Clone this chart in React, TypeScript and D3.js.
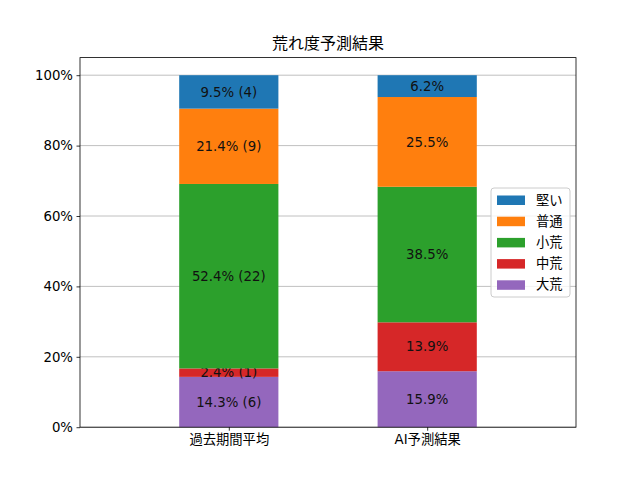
import React, { useEffect, useRef } from 'react';
import * as d3 from 'd3';

const categories = ['過去期間平均', 'AI予測結果'];
const seriesNames = ['大荒', '中荒', '小荒', '普通', '堅い'];
const seriesColors = ['#9467bd', '#d62728', '#2ca02c', '#ff7f0e', '#1f77b4'];
// percentages per series, one value per category
const daiare = [14.3, 15.9];
const chuare = [2.4, 13.9];
const shoare = [52.4, 38.5];
const futsu = [21.4, 25.5];
const katai = [9.5, 6.2];
// race counts for the past-period bar only
const pastCounts = [6, 1, 22, 9, 4];
const yTicks = [0, 20, 40, 60, 80, 100];

const FONT = '"DejaVu Sans", "Noto Sans CJK JP", sans-serif';

const App: React.FC = () => {
  const ref = useRef<SVGSVGElement | null>(null);

  useEffect(() => {
    if (!ref.current) return;
    const svg = d3.select(ref.current);
    svg.selectAll('*').remove();

    const width = 640;
    const height = 480;
    const margin = { top: 57.6, right: 64, bottom: 52.8, left: 80 };
    const values = [daiare, chuare, shoare, futsu, katai];

    const x = d3.scaleLinear()
      .domain([-0.75, categories.length - 0.25])
      .range([margin.left, width - margin.right]);
    const y = d3.scaleLinear()
      .domain([0, 105])
      .range([height - margin.bottom, margin.top]);
    const barW = x(0.5) - x(0);

    // grid
    svg.append('g')
      .selectAll('line')
      .data(yTicks)
      .enter().append('line')
      .attr('x1', margin.left)
      .attr('x2', width - margin.right)
      .attr('y1', d => y(d))
      .attr('y2', d => y(d))
      .attr('stroke', '#b0b0b0')
      .attr('stroke-width', 0.8);

    // bars
    categories.forEach((cat, ci) => {
      let base = 0;
      values.forEach((vals, si) => {
        const v = vals[ci];
        svg.append('rect')
          .attr('x', x(ci) - barW / 2)
          .attr('y', y(base + v))
          .attr('width', barW)
          .attr('height', y(base) - y(base + v))
          .attr('fill', seriesColors[si]);
        const label = ci === 0 ? `${v.toFixed(1)}% (${pastCounts[si]})` : `${v.toFixed(1)}%`;
        svg.append('text')
          .attr('x', x(ci))
          .attr('y', y(base + v / 2))
          .attr('dy', '0.35em')
          .attr('text-anchor', 'middle')
          .attr('font-family', FONT)
          .attr('font-size', 13.3)
          .attr('fill', '#111')
          .text(label);
        base += v;
      });
    });

    // axes
    const yAxis = svg.append('g')
      .attr('transform', `translate(${margin.left},0)`)
      .call(d3.axisLeft(y).tickValues(yTicks).tickFormat(d => `${d}%`).tickSize(3.5).tickPadding(3.5));
    const xAxis = svg.append('g')
      .attr('transform', `translate(0,${height - margin.bottom})`)
      .call(d3.axisBottom(x).tickValues(categories.map((_, i) => i)).tickFormat((_, i) => categories[i]).tickSize(3.5).tickPadding(3.5));
    [xAxis, yAxis].forEach(a => {
      a.select('.domain').remove();
      a.selectAll('text').attr('font-family', FONT).attr('font-size', 13.3).attr('fill', '#000');
      a.selectAll('line').attr('stroke', '#000').attr('stroke-width', 0.8);
    });

    // frame
    svg.append('rect')
      .attr('x', margin.left)
      .attr('y', margin.top)
      .attr('width', width - margin.left - margin.right)
      .attr('height', height - margin.top - margin.bottom)
      .attr('fill', 'none')
      .attr('stroke', '#000')
      .attr('stroke-width', 0.8);

    svg.append('text')
      .attr('x', (margin.left + width - margin.right) / 2)
      .attr('y', 49)
      .attr('text-anchor', 'middle')
      .attr('font-family', FONT)
      .attr('font-size', 16)
      .text('荒れ度予測結果');

    // legend
    const lg = svg.append('g').attr('transform', 'translate(491,188)');
    lg.append('rect')
      .attr('width', 79)
      .attr('height', 109)
      .attr('rx', 3)
      .attr('fill', '#fff')
      .attr('fill-opacity', 0.8)
      .attr('stroke', '#cccccc');
    const order = seriesNames.map((_, i) => i).reverse();
    order.forEach((si, k) => {
      const cy = 12 + k * 21.2;
      lg.append('rect')
        .attr('x', 6)
        .attr('y', cy - 4.5)
        .attr('width', 28)
        .attr('height', 9.5)
        .attr('fill', seriesColors[si]);
      lg.append('text')
        .attr('x', 45)
        .attr('y', cy)
        .attr('dy', '0.35em')
        .attr('font-family', FONT)
        .attr('font-size', 13.3)
        .text(seriesNames[si]);
    });
  }, []);

  return <svg ref={ref} width={640} height={480} style={{ display: 'block', margin: -8 }} />;
};

export default App;
